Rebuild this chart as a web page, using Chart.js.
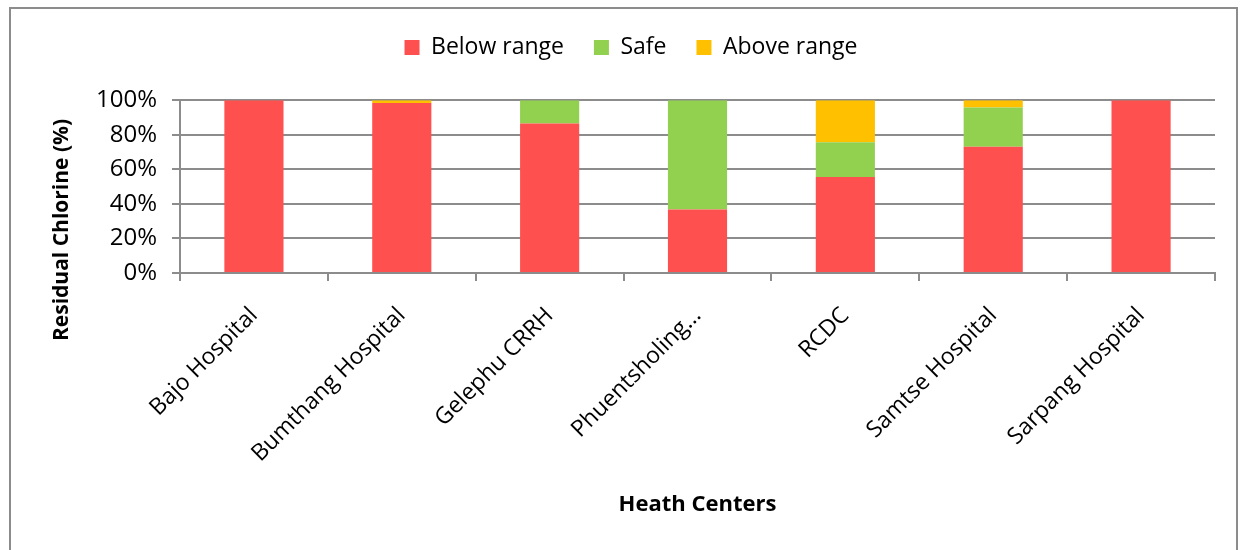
<!DOCTYPE html>
<html><head><meta charset="utf-8">
<script src="https://cdn.jsdelivr.net/npm/chart.js@4.4.1/dist/chart.umd.min.js"></script>
<style>
html,body{margin:0;padding:0;background:#fff;width:1243px;height:550px;overflow:hidden;}
#frame{position:absolute;left:9px;top:7px;width:1229px;height:600px;border:2px solid #8c8c8c;box-sizing:border-box;}
#wrap{position:absolute;left:0;top:0;width:1243px;height:550px;}
</style></head><body>
<div id="frame"></div>
<div id="wrap"><canvas id="c" width="1243" height="550" style="width:1243px;height:550px"></canvas></div>
<script>
const categories = ["Bajo Hospital","Bumthang Hospital","Gelephu CRRH","Phuentsholing...","RCDC","Samtse Hospital","Sarpang Hospital"];
const belowRange = [100, 98.4, 86.5, 36.8, 55.5, 73.0, 100];
const safe       = [0, 0, 13.5, 63.2, 20.2, 22.8, 0];
const aboveRange = [0, 1.6, 0, 0, 24.3, 4.2, 0];
const yTicks = [0,20,40,60,80,100];
const xTitle = "Heath Centers";
const yTitle = "Residual Chlorine (%)";
const FONT = "'Open Sans', sans-serif";

const yTitlePlugin = {
  id:'yTitlePlugin',
  afterDraw(chart){
    const ctx = chart.ctx;
    ctx.save();
    ctx.translate(62, 230);
    ctx.rotate(-Math.PI/2);
    ctx.font = "bold 21px " + FONT;
    ctx.fillStyle = "#000";
    ctx.textAlign = "center";
    ctx.textBaseline = "middle";
    ctx.fillText(yTitle, 0, 0);
    ctx.restore();
  }
};

new Chart(document.getElementById('c'), {
  type:'bar',
  data:{
    labels:categories,
    datasets:[
      {label:"Below range", data:belowRange, backgroundColor:"#ff5050", borderWidth:0, categoryPercentage:1, barPercentage:0.4},
      {label:"Safe", data:safe, backgroundColor:"#92d050", borderWidth:0, categoryPercentage:1, barPercentage:0.4},
      {label:"Above range", data:aboveRange, backgroundColor:"#ffc000", borderWidth:0, categoryPercentage:1, barPercentage:0.4}
    ]
  },
  options:{
    responsive:false, animation:false, devicePixelRatio:1,
    layout:{padding:{left:47,right:28,top:6,bottom:32}},
    plugins:{
      legend:{position:'top', labels:{font:{family:FONT,size:23}, color:'#000', boxWidth:15, boxHeight:15, padding:30}},
      title:{display:true, text:' ', weight:500, font:{size:1}, padding:{top:15,bottom:15}},
      tooltip:{enabled:false}
    },
    scales:{
      x:{
        stacked:true,
        offset:true,
        grid:{display:true, drawOnChartArea:false, offset:true, color:'#8c8c8c', lineWidth:2, tickLength:8},
        border:{color:'#8c8c8c', width:2},
        ticks:{font:{family:FONT,size:23}, color:'#000', maxRotation:45, minRotation:45, autoSkip:false, padding:21},
        title:{display:true, text:xTitle, font:{family:FONT,size:22,weight:'bold'}, color:'#000', padding:{top:0,bottom:0}},
        afterFit(s){ s.height = 245; }
      },
      y:{
        stacked:true, min:0, max:100,
        afterBuildTicks(s){ s.ticks = yTicks.map(v=>({value:v})); },
        grid:{color:'#8c8c8c', lineWidth:2, tickLength:8},
        border:{color:'#8c8c8c', width:2},
        ticks:{font:{family:FONT,size:24}, color:'#000', callback:v=>v+'%', padding:15},
        afterFit(s){ s.width = 133; }
      }
    }
  },
  plugins:[yTitlePlugin]
});
</script>
</body></html>
